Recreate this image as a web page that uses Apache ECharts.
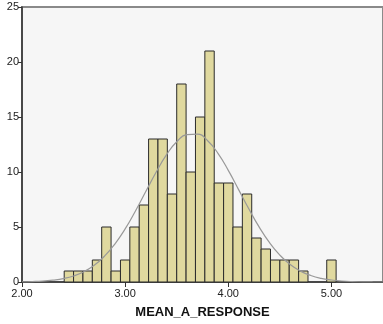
<!DOCTYPE html>
<html>
<head>
<meta charset="utf-8">
<script src="https://cdn.jsdelivr.net/npm/echarts@6/dist/echarts.min.js"></script>
</head>
<body style="margin: 0; padding: 0; background: #ffffff;">
<div id="chart" style="width: 383px; height: 324px;"></div>
<script>
// histogram bins: width 1/11, first bin centred on 27/11
const binWidth = 1 / 11
const firstBinStart = 27 / 11 - binWidth / 2
const binCounts = [1, 1, 1, 2, 5, 1, 2, 5, 7, 13, 13, 8, 18, 10, 15, 21, 9, 9, 5, 8, 4, 3, 2, 2, 2, 1, 0, 0, 2]

// normal curve
const curveX = [2.0, 2.1, 2.2, 2.3, 2.4, 2.5, 2.6, 2.7, 2.8, 2.9, 3.0, 3.1, 3.2, 3.3, 3.4, 3.5, 3.6, 3.7,
  3.8, 3.9, 4.0, 4.1, 4.2, 4.3, 4.4, 4.5, 4.6, 4.7, 4.8, 4.9, 5.0, 5.1, 5.2, 5.3, 5.4, 5.5]
const curveY = [0.02, 0.04, 0.08, 0.17, 0.31, 0.55, 0.94, 1.52, 2.35, 3.45, 4.83, 6.46, 8.22, 9.98, 11.55, 12.75, 13.4, 13.44,
  12.84, 11.69, 10.15, 8.4, 6.63, 4.99, 3.57, 2.44, 1.59, 0.99, 0.59, 0.33, 0.18, 0.09, 0.04, 0.02, 0.01, 0.0]

const xTickLabels = ['2.00', '3.00', '4.00', '5.00']

const binData = binCounts
  .map((c, i) => [firstBinStart + i * binWidth, firstBinStart + (i + 1) * binWidth, c])
  .filter(d => d[2] > 0)

const chart = echarts.init(document.getElementById('chart'))
chart.setOption({
  animation: false,
  textStyle: { fontFamily: 'Liberation Sans, Arial, sans-serif' },
  grid: {
    left: 22, right: -2, top: 7, bottom: 38,
    show: true, backgroundColor: '#f6f6f6',
    borderColor: '#8a8a8a', borderWidth: 2
  },
  xAxis: {
    type: 'value', min: 2, max: 5.5, interval: 1,
    name: 'MEAN_A_RESPONSE', nameLocation: 'middle', nameGap: 24,
    nameTextStyle: { fontWeight: 'bold', fontSize: 13, color: '#111' },
    axisLine: { lineStyle: { color: '#333', width: 1.5 } },
    axisTick: { length: 5, lineStyle: { color: '#333' } },
    splitLine: { show: false },
    axisLabel: {
      color: '#222', fontSize: 11, margin: 6, showMaxLabel: false,
      formatter: v => xTickLabels[Math.round(v) - 2] || ''
    }
  },
  yAxis: {
    type: 'value', min: 0, max: 25, interval: 5,
    axisLine: { show: true, lineStyle: { color: '#333', width: 1.5 } },
    axisTick: { show: true, length: 4, lineStyle: { color: '#333' } },
    splitLine: { show: false },
    axisLabel: { color: '#222', fontSize: 11, margin: 3 }
  },
  series: [
    {
      type: 'custom',
      data: binData,
      encode: { x: [0, 1], y: 2 },
      renderItem: (params, api) => {
        const p0 = api.coord([api.value(0), 0])
        const p1 = api.coord([api.value(1), api.value(2)])
        return {
          type: 'rect',
          shape: { x: p0[0], y: p1[1], width: p1[0] - p0[0], height: p0[1] - p1[1] },
          style: { fill: '#e0d99f', stroke: '#2b2b2b', lineWidth: 1 }
        }
      }
    },
    {
      type: 'line',
      data: curveX.map((x, i) => [x, curveY[i]]),
      smooth: true,
      symbol: 'none',
      lineStyle: { color: '#999', width: 1.2 },
      z: 3
    }
  ]
})
</script>
</body>
</html>
